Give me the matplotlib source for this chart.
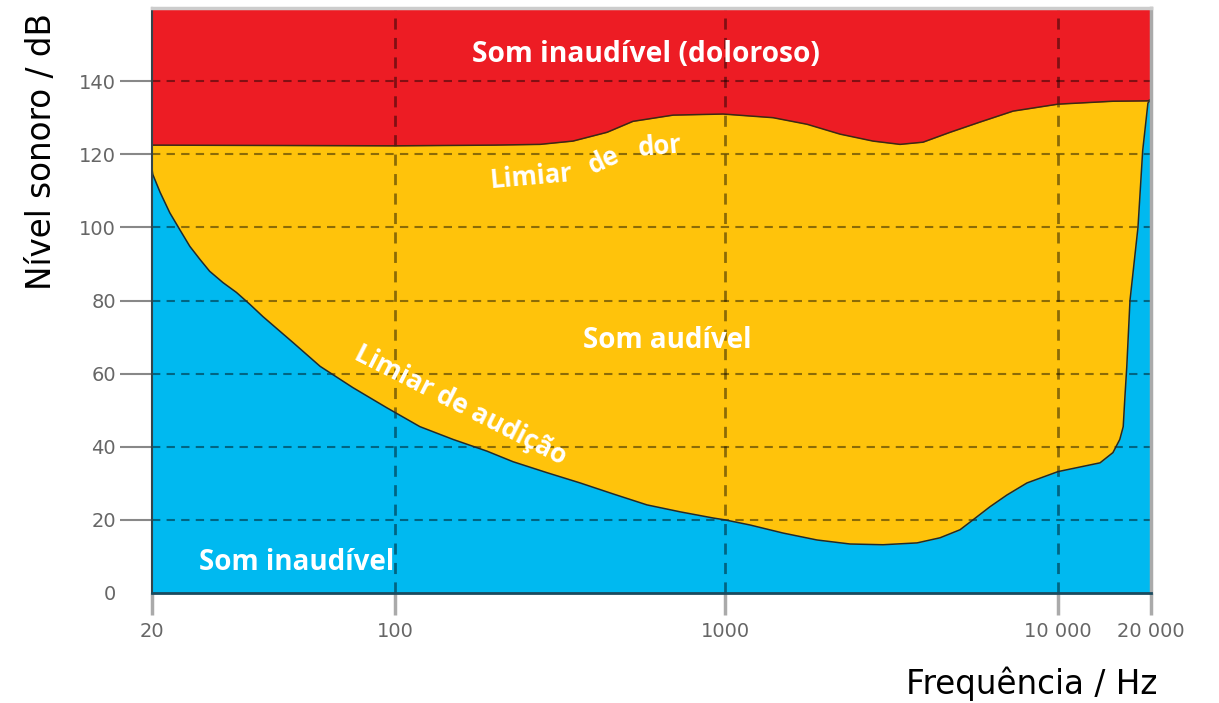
import matplotlib
matplotlib.use("Agg")
import matplotlib.pyplot as plt
import numpy as np

# ---- data ----
hear_freq = [20, 20.1, 21.1, 22.5, 24.0, 25.7, 27.5, 29.3, 32.0, 35.0, 38.3, 41.7,
             50.9, 60.9, 75.6, 94.6, 119, 150, 190, 228, 289, 364, 458, 580, 731,
             922, 1000, 1189, 1493, 1889, 2374, 2982, 3773, 4423, 5080, 5555,
             6250, 7025, 8070, 10000, 13680, 15060, 15850, 16260, 16450, 16700,
             17100, 18150, 18800, 19550, 20000]
hear_db = [116, 114.5, 109.6, 104, 99.5, 94.8, 91.2, 88, 84.9, 82.2, 78.9, 75.6,
           68.5, 62, 56.2, 50.7, 45.5, 42, 38.8, 35.9, 32.9, 30.1, 27.1, 24.1, 22.2,
           20.5, 20, 18.6, 16.4, 14.5, 13.4, 13.2, 13.7, 15.1, 17.3, 20,
           23.6, 26.8, 30.1, 33.2, 35.6, 38.4, 42, 45.5, 53, 62,
           80, 100, 121, 134, 135]

pain_freq = [20, 100, 200, 275, 346, 439, 526, 696, 986, 1394, 1763, 2215, 2782,
             3354, 3932, 4740, 5830, 7330, 10000, 15060, 19550, 20000]
pain_db = [122.5, 122.3, 122.5, 122.7, 123.6, 126, 129, 130.7, 131, 130, 128.2,
           125.5, 123.6, 122.7, 123.3, 126, 128.8, 131.8, 133.7, 134.5, 134.6, 135]

x_ticks = [20, 100, 1000, 10000, 20000]
x_ticklabels = ["20", "100", "1000", "10 000", "20 000"]
y_ticks = [0, 20, 40, 60, 80, 100, 120, 140]
x_grid = [100, 1000, 10000]
y_grid = [20, 40, 60, 80, 100, 120, 140]

# the printed frequency axis is only roughly logarithmic: anchor the ticks
x_anchor_frac = [0.0, 0.2432, 0.5736, 0.9069, 1.0]
_LOGS = np.log10(x_ticks)

def fwd(x):
    x = np.clip(np.asarray(x, dtype=float), 1e-6, None)
    return np.interp(np.log10(x), _LOGS, x_anchor_frac)

def inv(p):
    return 10 ** np.interp(np.asarray(p, dtype=float), x_anchor_frac, _LOGS)

RED = "#ED1C24"
YELLOW = "#FFC30B"
BLUE = "#00B9F0"

fig = plt.figure(figsize=(12.19, 7.03), dpi=100)
ax = fig.add_axes([152/1219, 1-593/703, (1151-152)/1219, (593-8)/703])
ax.set_xscale("function", functions=(fwd, inv))
ax.set_xlim(20, 20000)
ax.set_ylim(0, 160)

# fills
ax.fill_between([20, 20000], 0, 160, color=RED, zorder=1, lw=0)
ax.fill_between(pain_freq, 0, pain_db, color=YELLOW, zorder=1.1, lw=0)
ax.fill_between(hear_freq, 0, hear_db, color=BLUE, zorder=1.2, lw=0)

# grid over fills
for g in y_grid:
    ax.axhline(g, color="black", alpha=0.45, lw=1.5, ls=(0, (4, 3)), zorder=2)
for g in x_grid:
    ax.axvline(g, color="black", alpha=0.45, lw=2, ls=(0, (4, 3)), zorder=2)

# boundary curves
ax.plot(pain_freq, pain_db, color="#3a2a14", lw=1.1, zorder=3)
ax.plot(hear_freq, hear_db, color="#1e2a30", lw=1.1, zorder=3)

# ticks
ax.xaxis.set_major_locator(matplotlib.ticker.FixedLocator(x_ticks))
ax.xaxis.set_major_formatter(matplotlib.ticker.FixedFormatter(x_ticklabels))
ax.xaxis.set_minor_locator(matplotlib.ticker.NullLocator())
ax.set_yticks(y_ticks)
ax.tick_params(axis="y", length=23, width=1.5, color="#888888", pad=3,
               labelsize=14, labelcolor="#666666")
ax.tick_params(axis="x", length=16, width=2.5, color="#aaaaaa", pad=5,
               labelsize=14, labelcolor="#666666")
ax.yaxis.get_major_ticks()[0].tick1line.set_visible(False)

ax.spines["left"].set_color("#33444a")
ax.spines["left"].set_linewidth(1.5)
ax.spines["bottom"].set_color("#1a4a5e")
ax.spines["bottom"].set_linewidth(2)
ax.spines["top"].set_color("#cccccc")
ax.spines["top"].set_linewidth(2.5)
ax.spines["right"].set_color("#aaaaaa")
ax.spines["right"].set_linewidth(2.5)
for s in ax.spines.values():
    s.set_zorder(4)

# region labels
tf = dict(color="white", fontweight="bold", family=["Open Sans", "DejaVu Sans"], zorder=5)

def px(xp, yp):
    return ((xp - 152) / 999, (593 - yp) / 585)

ax.text(*px(646, 55), "Som inaudível (doloroso)", transform=ax.transAxes,
        ha="center", va="center", fontsize=20.3, **tf)
ax.text(*px(667, 340), "Som audível", transform=ax.transAxes,
        ha="center", va="center", fontsize=20, **tf)
ax.text(*px(297, 563), "Som inaudível", transform=ax.transAxes,
        ha="center", va="center", fontsize=20, **tf)

for word, (xp, yp), rot in [("Limiar", (531, 177), 5), ("de", (604, 161), 25),
                            ("dor", (660, 147), 5)]:
    ax.text(*px(xp, yp), word, transform=ax.transAxes, ha="center", va="center",
            rotation=rot, fontsize=18.5, **tf)
ax.text(*px(460, 405), "Limiar de audição", transform=ax.transAxes,
        ha="center", va="center", rotation=-27, rotation_mode="anchor",
        fontsize=19, **tf)

# axis titles
fig.text(1157/1219, 1-684/703, "Frequência / Hz", ha="right", va="center",
         fontsize=23.5, color="black")
fig.text(42/1219, 1-152/703, "Nível sonoro / dB", ha="center", va="center",
         rotation=90, fontsize=23.5, color="black")

fig.savefig("out.png", dpi=100)
